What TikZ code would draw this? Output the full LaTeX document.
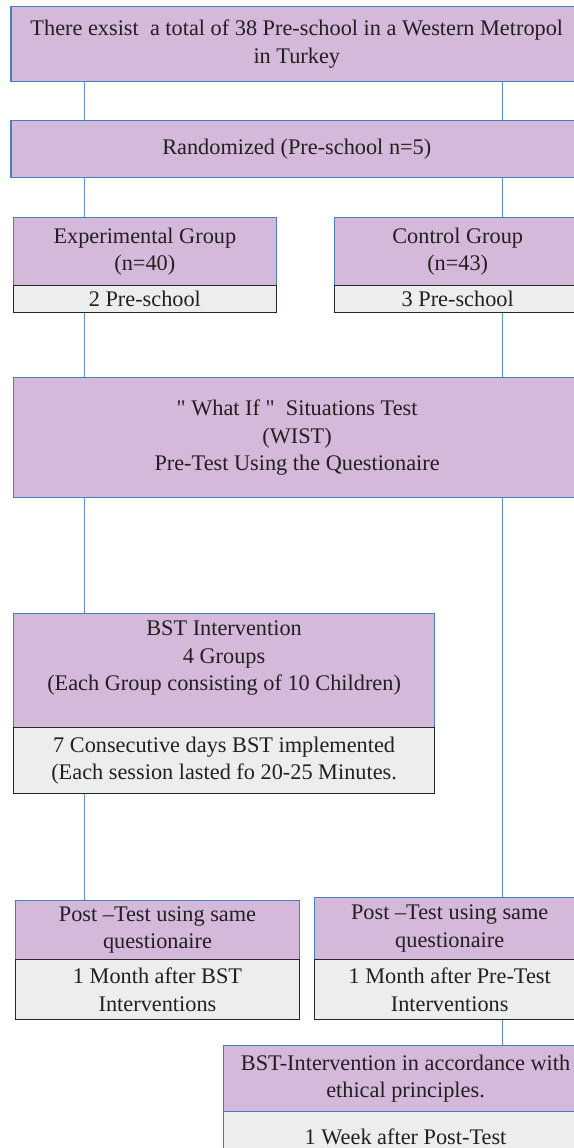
\documentclass[tikz,border=0pt]{standalone}
\usepackage{fontspec}
\setmainfont{Liberation Serif}
\newfontfamily\qfont{Liberation Serif}[Ligatures=ResetAll]
\definecolor{boxpurple}{RGB}{212,185,218}
\definecolor{boxgrey}{RGB}{236,237,237}
\definecolor{boxblue}{RGB}{74,126,187}
\definecolor{linkblue}{RGB}{91,143,208}
\definecolor{txt}{RGB}{35,31,32}
\newcommand\sq{{\qfont"}}
\tikzset{
  pbox/.style={draw=boxblue, line width=1.4pt, fill=boxpurple, anchor=north west, inner sep=0pt, align=center, text=txt, font=\fontsize{22.3}{27.5}\selectfont},
  gbox/.style={draw=black!85, line width=1.4pt, fill=boxgrey, anchor=north west, inner sep=0pt, align=center, text=txt, font=\fontsize{22.3}{27.5}\selectfont},
  link/.style={draw=linkblue, line width=0.9pt}
}
\begin{document}
\begin{tikzpicture}[x=1pt,y=-1pt]
\useasboundingbox (0,0) rectangle (573,1148);
\coordinate (cl) at (84,0);
\coordinate (cr) at (502.5,0);
% boxes
\node[pbox, minimum width=571.8pt, minimum height=75pt] (top) at (10.2,5.7) {There exsist\ \ a total of 38 Pre-school in a Western Metropol\\in Turkey};
\node[pbox, minimum width=571.8pt, minimum height=56.7pt] (rand) at (10.2,120) {Randomized (Pre-school n=5)};
\node[pbox, minimum width=262.7pt, minimum height=68.3pt] (exp) at (12.8,216.7) {Experimental Group\\(n=40)};
\node[gbox, minimum width=262.7pt, minimum height=26.7pt] (expg) at (12.8,285) {2 Pre-school};
\node[pbox, minimum width=246pt, minimum height=68.3pt] (ctl) at (334,216.7) {Control Group\\(n=43)};
\node[gbox, minimum width=246pt, minimum height=26.7pt] (ctlg) at (334,285) {3 Pre-school};
\node[pbox, minimum width=567.2pt, minimum height=119.7pt] (wist) at (12.8,377) {\sq\ What If \sq\ \ Situations Test\\(WIST)\\Pre-Test Using the Questionaire};
\node[pbox, minimum width=421.2pt, minimum height=114pt] (bst) at (12.8,612.7) {BST Intervention\\4 Groups\\(Each Group consisting of 10 Children)\\[2pt]};
\node[gbox, minimum width=421.2pt, minimum height=66pt] (bstg) at (12.8,726.7) {7 Consecutive days BST implemented\\(Each session lasted fo 20-25 Minutes.};
\node[pbox, minimum width=284.4pt, minimum height=59pt] (postl) at (14.6,900) {Post –Test using same\\questionaire};
\node[gbox, minimum width=284.4pt, minimum height=60pt] (postlg) at (14.6,959) {1 Month after BST\\Interventions};
\node[pbox, minimum width=270pt, minimum height=62pt] (postr) at (314,897) {Post –Test using same\\questionaire};
\node[gbox, minimum width=270pt, minimum height=60pt] (postrg) at (314,959) {1 Month after Pre-Test\\Interventions};
\node[pbox, minimum width=364.3pt, minimum height=66pt] (fin) at (222.7,1045) {BST-Intervention in accordance with\\ethical principles.};
\node[gbox, draw=boxblue, minimum width=364.3pt, minimum height=50pt] (fing) at (222.7,1111) {1 Week after Post-Test};
% connectors
\draw[link] (top.south -| cl) -- (rand.north -| cl);
\draw[link] (top.south -| cr) -- (rand.north -| cr);
\draw[link] (rand.south -| cl) -- (exp.north -| cl);
\draw[link] (rand.south -| cr) -- (ctl.north -| cr);
\draw[link] (expg.south -| cl) -- (wist.north -| cl);
\draw[link] (ctlg.south -| cr) -- (wist.north -| cr);
\draw[link] (wist.south -| cl) -- (bst.north -| cl);
\draw[link] (wist.south -| cr) -- (postr.north -| cr);
\draw[link] (bstg.south -| cl) -- (postl.north -| cl);
\draw[link] (postrg.south -| cr) -- (fin.north -| cr);
\end{tikzpicture}
\end{document}
